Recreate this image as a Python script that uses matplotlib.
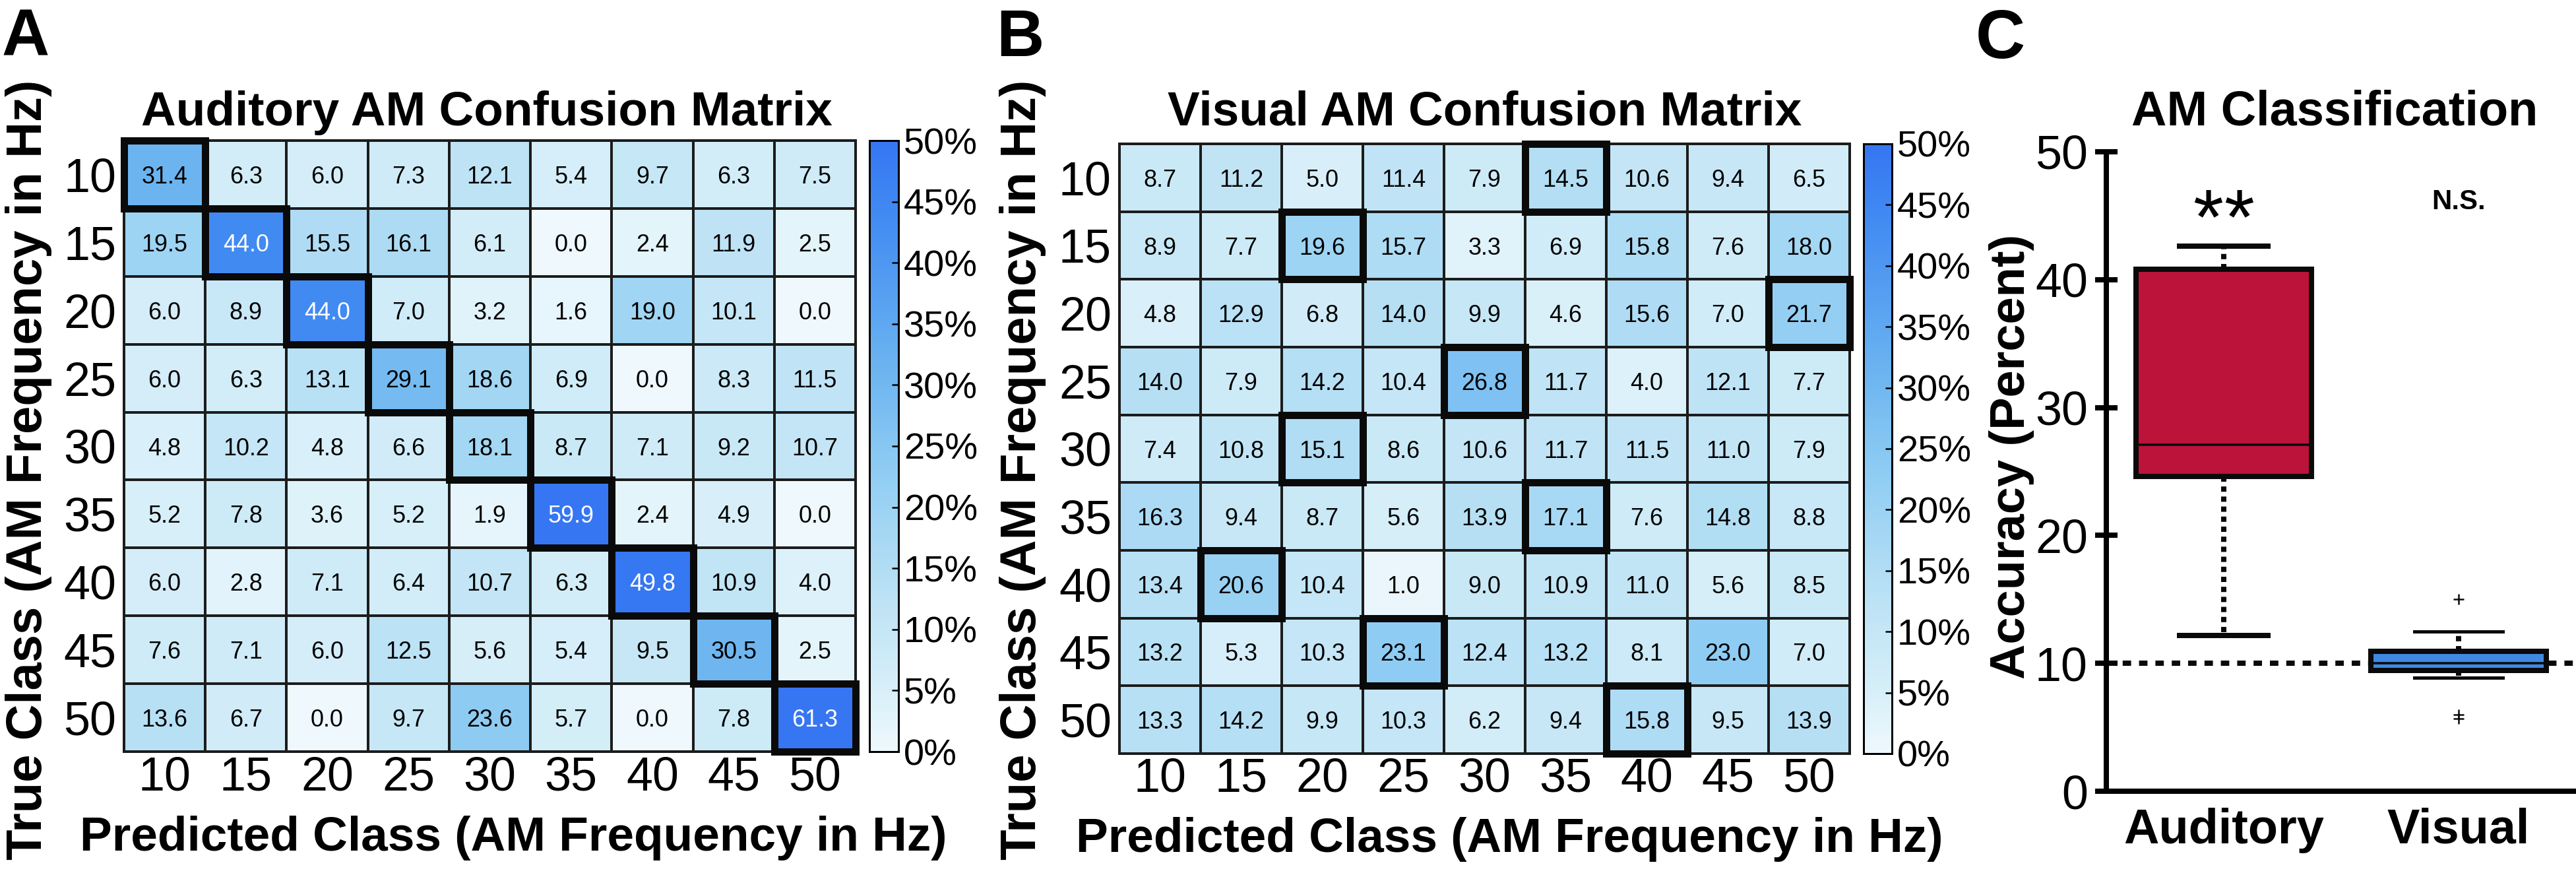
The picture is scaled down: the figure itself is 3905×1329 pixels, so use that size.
import numpy as np
import matplotlib.pyplot as plt
from matplotlib.colors import LinearSegmentedColormap
from matplotlib.patches import Rectangle

W, H, DPI = 3905, 1329, 72

freqs = [10, 15, 20, 25, 30, 35, 40, 45, 50]

# rows = true class, columns = predicted class (percent)
auditory_cm = np.array([
    [31.4, 6.3, 6.0, 7.3, 12.1, 5.4, 9.7, 6.3, 7.5],
    [19.5, 44.0, 15.5, 16.1, 6.1, 0.0, 2.4, 11.9, 2.5],
    [6.0, 8.9, 44.0, 7.0, 3.2, 1.6, 19.0, 10.1, 0.0],
    [6.0, 6.3, 13.1, 29.1, 18.6, 6.9, 0.0, 8.3, 11.5],
    [4.8, 10.2, 4.8, 6.6, 18.1, 8.7, 7.1, 9.2, 10.7],
    [5.2, 7.8, 3.6, 5.2, 1.9, 59.9, 2.4, 4.9, 0.0],
    [6.0, 2.8, 7.1, 6.4, 10.7, 6.3, 49.8, 10.9, 4.0],
    [7.6, 7.1, 6.0, 12.5, 5.6, 5.4, 9.5, 30.5, 2.5],
    [13.6, 6.7, 0.0, 9.7, 23.6, 5.7, 0.0, 7.8, 61.3],
])

visual_cm = np.array([
    [8.7, 11.2, 5.0, 11.4, 7.9, 14.5, 10.6, 9.4, 6.5],
    [8.9, 7.7, 19.6, 15.7, 3.3, 6.9, 15.8, 7.6, 18.0],
    [4.8, 12.9, 6.8, 14.0, 9.9, 4.6, 15.6, 7.0, 21.7],
    [14.0, 7.9, 14.2, 10.4, 26.8, 11.7, 4.0, 12.1, 7.7],
    [7.4, 10.8, 15.1, 8.6, 10.6, 11.7, 11.5, 11.0, 7.9],
    [16.3, 9.4, 8.7, 5.6, 13.9, 17.1, 7.6, 14.8, 8.8],
    [13.4, 20.6, 10.4, 1.0, 9.0, 10.9, 11.0, 5.6, 8.5],
    [13.2, 5.3, 10.3, 23.1, 12.4, 13.2, 8.1, 23.0, 7.0],
    [13.3, 14.2, 9.9, 10.3, 6.2, 9.4, 15.8, 9.5, 13.9],
])

cbar_ticks = [0, 5, 10, 15, 20, 25, 30, 35, 40, 45, 50]

# box plot summary (accuracy, percent)
groups = ['Auditory', 'Visual']
box_med = [27.1, 10.0]
box_q1 = [24.6, 9.45]
box_q3 = [40.8, 10.95]
box_lo = [12.2, 8.9]
box_hi = [42.6, 12.5]
box_fliers = [[], [15.0, 6.0, 5.7]]
box_colors = ['#BB133A', '#3F89E2']
chance = 10

plt.rcParams['font.family'] = ['Liberation Sans', 'DejaVu Sans']

cmap = LinearSegmentedColormap.from_list('am_blue', [
    (0.00, '#EEF8FD'), (0.12, '#D3EDF8'), (0.24, '#BEE3F5'),
    (0.38, '#A0D5F3'), (0.47, '#8DCBF3'), (0.62, '#6DB5F0'),
    (0.88, '#418AF2'), (1.00, '#3676F2')])

fig = plt.figure(figsize=(W / DPI, H / DPI), dpi=DPI)


def px_axes(left, top, right, bottom):
    return fig.add_axes([left / W, 1 - bottom / H, (right - left) / W, (bottom - top) / H])


def ftext(x, y, s, **kw):
    fig.text(x / W, 1 - y / H, s, **kw)


def draw_matrix(ax, cax, cm):
    n = cm.shape[0]
    mesh = ax.pcolormesh(np.arange(n + 1), np.arange(n + 1), cm, cmap=cmap,
                         vmin=0, vmax=50, edgecolors='#1c1c1c', linewidth=3.5)
    ax.set_xlim(0, n)
    ax.set_ylim(n, 0)
    for i in range(n):
        for j in range(n):
            v = cm[i, j]
            ax.text(j + 0.5, i + 0.5, '%.1f' % v, ha='center', va='center_baseline',
                    fontsize=36, color='white' if v > 40 else 'black')
        k = np.argmax(cm[i])
        ax.add_patch(Rectangle((k, i), 1, 1, fill=False, lw=11, ec='#0a0a0a',
                               joinstyle='miter', clip_on=False, zorder=5))
    ax.set_xticks(np.arange(n) + 0.5, labels=freqs)
    ax.set_yticks(np.arange(n) + 0.5, labels=freqs)
    ax.tick_params(axis='both', length=0, labelsize=72)
    ax.tick_params(axis='y', pad=12)
    ax.tick_params(axis='x', pad=6)
    for s in ax.spines.values():
        s.set_linewidth(4)
        s.set_color('#1c1c1c')

    cb = fig.colorbar(mesh, cax=cax, ticks=cbar_ticks)
    cb.ax.set_yticklabels(['%d%%' % t for t in cbar_ticks])
    cb.outline.set_linewidth(3)
    cax.tick_params(direction='in', length=10, width=2.5, labelsize=56, pad=8)


# panel A
axA = px_axes(188, 213, 1297, 1139)
caxA = px_axes(1318, 213, 1362, 1139)
draw_matrix(axA, caxA, auditory_cm)
ftext(3, 85, 'A', fontsize=100, fontweight='bold', va='baseline')
ftext(738, 190, 'Auditory AM Confusion Matrix', fontsize=73, fontweight='bold',
      ha='center', va='baseline')
ftext(778, 1289, 'Predicted Class (AM Frequency in Hz)', fontsize=73,
      fontweight='bold', ha='center', va='baseline')
ftext(44, 712, 'True Class (AM Frequency in Hz)', fontsize=76, fontweight='bold',
      ha='center', va='center', rotation=90)

# panel B
axB = px_axes(1697, 218, 2804, 1142)
caxB = px_axes(2825, 218, 2868, 1142)
draw_matrix(axB, caxB, visual_cm)
ftext(1510, 85, 'B', fontsize=100, fontweight='bold', va='baseline')
ftext(2251, 190, 'Visual AM Confusion Matrix', fontsize=73, fontweight='bold',
      ha='center', va='baseline')
ftext(2288, 1291, 'Predicted Class (AM Frequency in Hz)', fontsize=73,
      fontweight='bold', ha='center', va='baseline')
ftext(1550, 712, 'True Class (AM Frequency in Hz)', fontsize=76, fontweight='bold',
      ha='center', va='center', rotation=90)

# panel C
axC = px_axes(3193, 230, 3905, 1199)
axC.axhline(chance, color='#0a0a0a', lw=8, ls=(0, (1.6, 1.5)), zorder=2)
for i in range(len(groups)):
    stat = dict(med=box_med[i], q1=box_q1[i], q3=box_q3[i],
                whislo=box_lo[i], whishi=box_hi[i], fliers=box_fliers[i])
    cap_lw = 8 if i == 0 else 5
    axC.bxp([stat], positions=[i + 1], widths=0.745, capwidths=0.374,
            patch_artist=True, showfliers=True, zorder=3,
            boxprops=dict(facecolor=box_colors[i], edgecolor='#0a0a0a', linewidth=8),
            medianprops=dict(color='#0a0a0a', linewidth=3.5),
            whiskerprops=dict(color='#0a0a0a', linewidth=8, linestyle=(0, (1.0, 0.9))),
            capprops=dict(color='#0a0a0a', linewidth=cap_lw),
            flierprops=dict(marker='+', markersize=16, markeredgecolor='#0a0a0a',
                            markeredgewidth=2.5))
# significance marks
for dx in (-0.066, 0.066):
    axC.text(1 + dx, 42.8, '*', ha='center', va='baseline', fontsize=118)
axC.text(2, 45.5, 'N.S.', ha='center', va='baseline', fontsize=42,
         fontweight='bold')
axC.set_xlim(0.5, 2.5)
axC.set_ylim(0, 50)
axC.set_yticks([0, 10, 20, 30, 40, 50])
axC.set_xticks([1, 2], labels=groups)
for lab in axC.get_xticklabels():
    lab.set_fontweight('bold')
axC.tick_params(axis='y', direction='inout', length=34, width=8, labelsize=72, pad=11)
axC.tick_params(axis='x', length=0, labelsize=74, pad=25)
axC.spines['top'].set_visible(False)
axC.spines['right'].set_visible(False)
axC.spines['left'].set_linewidth(8)
axC.spines['bottom'].set_linewidth(8)
ftext(2995, 88, 'C', fontsize=104, fontweight='bold', va='baseline')
ftext(3539, 190, 'AM Classification', fontsize=74, fontweight='bold',
      ha='center', va='baseline')
ftext(3049, 692, 'Accuracy (Percent)', fontsize=74, fontweight='bold',
      ha='center', va='center', rotation=90)

fig.savefig('out.png', dpi=DPI)
